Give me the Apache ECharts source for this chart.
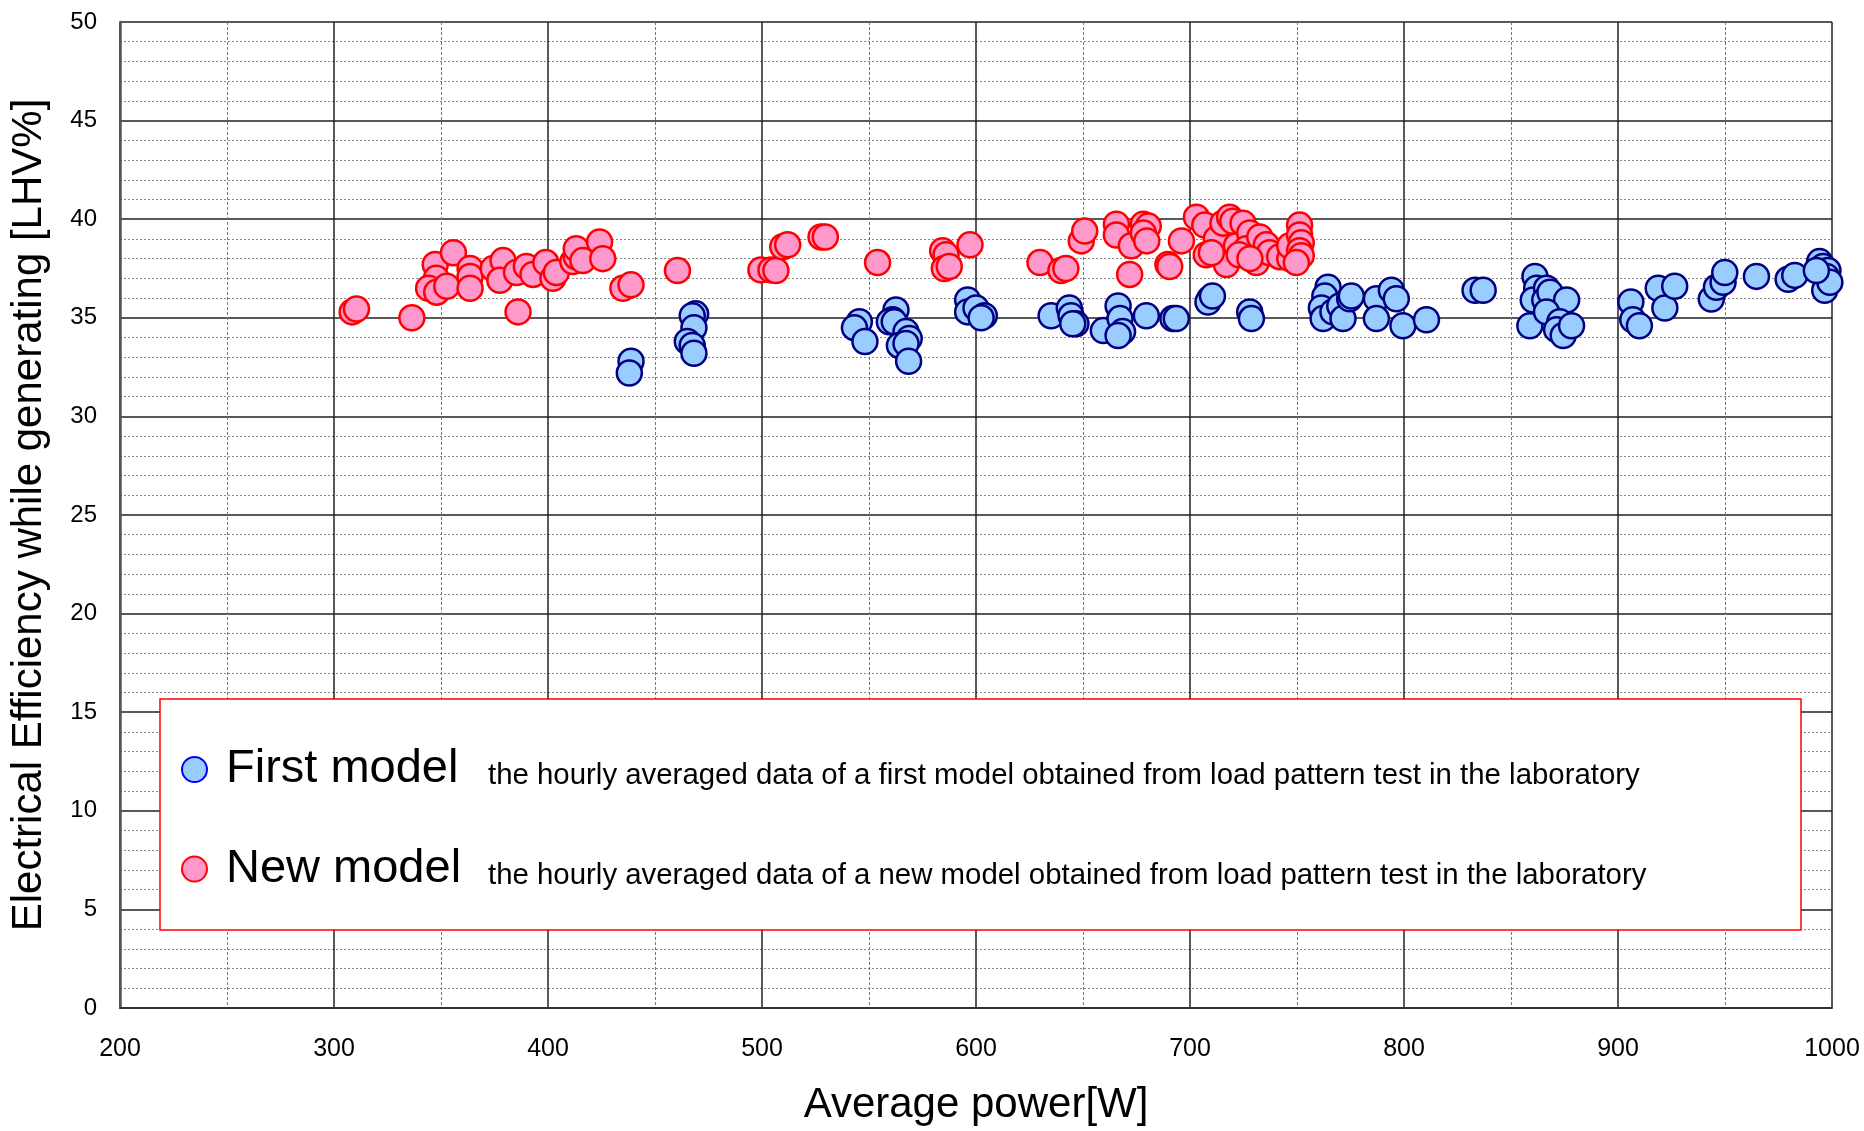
<!DOCTYPE html>
<html>
<head>
<meta charset="utf-8">
<script src="https://cdn.jsdelivr.net/npm/echarts@6/dist/echarts.min.js"></script>
<style>
  html, body { margin: 0; padding: 0; background: #fff; }
  #chart { width: 1864px; height: 1131px; }
</style>
</head>
<body>
<div id="chart"></div>
<script>
(function () {
  'use strict';

  // First model (blue) - hourly averaged lab data
  const firstPower = [438.8, 438, 469, 467.4, 468.2, 465.1, 467.4, 468.2,
    545.5, 543.2, 548.1, 562.6, 561, 559.5, 561.8, 567.3, 568.8, 564.2, 567.3, 568.5,
    596.1, 596.1, 600, 603.9, 602.4, 635.1, 643.6, 644.4, 646.7, 645.2, 659.5,
    666.4, 667.3, 668.5, 666.4, 679.6, 692, 693.6, 709.2, 708.4, 710.5, 727.9, 728.7,
    764.5, 763, 761.4, 762.2, 766.8, 770, 771.5, 774.6, 775.4, 787.1, 787.1,
    794.1, 796.4, 799.5, 810.5, 833.2, 837, 861.2, 862, 860.4, 866.6, 865.8, 868.2,
    876, 858.8, 866.6, 872.8, 871.3, 874.4, 878.3, 906, 906.9, 910, 918.8, 921.9,
    926.5, 943.6, 946, 949.1, 949.9, 964.7, 979.5, 982.6, 994.2, 995.8, 998.1,
    997.4, 996.6, 999, 992.7];
  const firstEff = [32.8, 32.2, 35.2, 35.1, 34.5, 33.8, 33.6, 33.2,
    34.8, 34.5, 33.8, 35.4, 34.9, 34.8, 34.8, 34.3, 33.95, 33.6, 33.7, 32.8,
    35.9, 35.3, 35.5, 35.1, 35.0, 35.1, 35.5, 35.1, 34.7, 34.7, 34.35,
    35.6, 34.96, 34.3, 34.1, 35.1, 34.96, 34.96, 35.97, 35.8, 36.1, 35.3, 34.96,
    36.55, 36.1, 35.5, 34.96, 35.3, 35.6, 34.96, 35.97, 36.1, 35.97, 34.96,
    36.4, 35.97, 34.6, 34.9, 36.4, 36.4, 37.1, 36.5, 35.9, 36.5, 35.9, 36.3,
    35.9, 34.6, 35.3, 34.8, 34.4, 34.1, 34.6, 35.8, 34.9, 34.6, 36.5, 35.5,
    36.6, 35.95, 36.55, 36.8, 37.3, 37.1, 36.95, 37.15, 37.85, 37.6, 37.4,
    37.1, 36.4, 36.8, 37.4];

  // New model (red) - hourly averaged lab data
  const newPower = [308.5, 310.5, 336.4, 347.3, 355.8, 347.8, 344.2, 348, 352.7,
    363.6, 363.6, 363.6, 374.4, 379, 377.5, 385.3, 389.9, 393, 399, 402.3, 403.9,
    411.6, 413.2, 413.2, 416.3, 424.1, 425.6, 386, 435, 438.8, 460.5,
    499.5, 504.2, 506.5, 509.7, 512, 527.6, 529.6, 554, 584.4, 586, 585.2, 587.5,
    597.2, 629.9, 639.7, 642, 649.2, 650.8, 665.6, 665.6, 672.6, 671.8, 678.2,
    680.5, 678.2, 679.8, 689.7, 690.5, 696, 703, 706.9, 707.6, 712.3, 715.4, 718.5,
    720, 717, 721.7, 724.8, 727.9, 726.3, 731, 732.6, 735.7, 737.2, 741.9, 746.6,
    746.6, 751.2, 751.2, 752, 751.2, 752, 749.7, 710, 723, 728];
  const newEff = [35.3, 35.45, 35.0, 37.7, 38.3, 37.0, 36.5, 36.3, 36.6,
    37.5, 37.1, 36.5, 37.5, 37.9, 36.9, 37.3, 37.6, 37.2, 37.8, 37.0, 37.3,
    37.85, 38.1, 38.5, 37.9, 38.85, 38.0, 35.3, 36.5, 36.67, 37.4,
    37.43, 37.43, 37.4, 38.6, 38.7, 39.1, 39.1, 37.8, 38.4, 38.2, 37.5, 37.6,
    38.7, 37.8, 37.4, 37.5, 38.9, 39.4, 39.75, 39.2, 38.65, 37.2, 39.75,
    39.65, 39.3, 38.9, 37.7, 37.6, 38.9, 40.1, 39.7, 38.2, 39.0, 39.8, 40.1,
    39.9, 37.7, 38.65, 39.8, 39.3, 38.5, 37.8, 39.1, 38.7, 38.3, 38.1, 38.0,
    38.65, 39.7, 39.2, 38.8, 38.4, 38.15, 37.8, 38.3, 38.2, 38.0];

  const seriesNames = ['First model', 'New model'];
  const seriesDesc = [
    'the hourly averaged data of a first model obtained from load pattern test in the laboratory',
    'the hourly averaged data of a new model obtained from load pattern test in the laboratory'
  ];

  function zip(xs, ys) {
    return xs.map(function (x, i) { return [x, ys[i]]; });
  }

  const font = '"Liberation Sans", Arial, sans-serif';

  const chart = echarts.init(document.getElementById('chart'), null, { renderer: 'canvas' });
  chart.setOption({
    backgroundColor: '#ffffff',
    animation: false,
    textStyle: { fontFamily: font },
    grid: { left: 120, right: 32, top: 22, bottom: 118 },
    legend: {
      orient: 'vertical',
      left: 160,
      top: 699,
      padding: [47, 15, 33, 21],
      itemGap: 48,
      itemWidth: 25,
      itemHeight: 28,
      selectedMode: false,
      borderColor: '#ff0000',
      borderWidth: 1.5,
      backgroundColor: '#ffffff',
      data: [
        { name: seriesNames[0], icon: 'circle',
          itemStyle: { color: '#99ccff', borderColor: '#0000ff', borderWidth: 2 } },
        { name: seriesNames[1], icon: 'circle',
          itemStyle: { color: '#ff99cc', borderColor: '#ff0000', borderWidth: 2 } }
      ],
      formatter: function (name) {
        return '{a|' + name + '}{b|' + seriesDesc[seriesNames.indexOf(name)] + '}';
      },
      textStyle: {
        rich: {
          a: { fontSize: 47, fontFamily: font, color: '#000', lineHeight: 56,
               verticalAlign: 'middle', width: 262, padding: [0, 0, 0, 14] },
          b: { fontSize: 29.4, fontFamily: font, color: '#000', lineHeight: 55,
               verticalAlign: 'bottom', width: 1298, padding: [0, 0, 7, 0] }
        }
      }
    },
    xAxis: {
      type: 'value',
      min: 200,
      max: 1000,
      interval: 100,
      name: 'Average power[W]',
      nameLocation: 'middle',
      nameGap: 76,
      nameTextStyle: { fontSize: 42, color: '#000', fontFamily: font },
      axisLine: { show: true, onZero: false, lineStyle: { color: '#333', width: 2 } },
      axisTick: { show: false },
      axisLabel: {
        fontSize: 25, color: '#000', margin: 29, fontFamily: font,
        formatter: function (v) { return String(v); }
      },
      splitLine: { show: true, lineStyle: { color: '#222', width: 1.5 } },
      minorTick: { show: true, splitNumber: 2, length: 0 },
      minorSplitLine: { show: true, lineStyle: { color: '#777', width: 1, type: [3, 2] } }
    },
    yAxis: {
      type: 'value',
      min: 0,
      max: 50,
      interval: 5,
      name: 'Electrical Efficiency while generating [LHV%]',
      nameLocation: 'middle',
      nameGap: 70,
      nameTextStyle: { fontSize: 42, color: '#000', fontFamily: font },
      axisLine: { show: true, lineStyle: { color: '#555', width: 2.5 } },
      axisTick: { show: false },
      axisLabel: { fontSize: 24, color: '#000', margin: 23, fontFamily: font },
      splitLine: { show: true, lineStyle: { color: '#222', width: 1.5 } },
      minorTick: { show: true, splitNumber: 5, length: 0 },
      minorSplitLine: { show: true, lineStyle: { color: '#888', width: 1, type: [2, 2] } }
    },
    series: [
      {
        name: seriesNames[0],
        type: 'scatter',
        symbol: 'circle',
        symbolSize: 25,
        data: zip(firstPower, firstEff),
        itemStyle: { color: '#99ccff', borderColor: '#000080', borderWidth: 2.5, opacity: 1 }
      },
      {
        name: seriesNames[1],
        type: 'scatter',
        symbol: 'circle',
        symbolSize: 25,
        data: zip(newPower, newEff),
        itemStyle: { color: '#ff99cc', borderColor: '#ff0000', borderWidth: 2.5, opacity: 1 }
      }
    ]
  });
  window.addEventListener('resize', function () { chart.resize(); });
})();
</script>
</body>
</html>
